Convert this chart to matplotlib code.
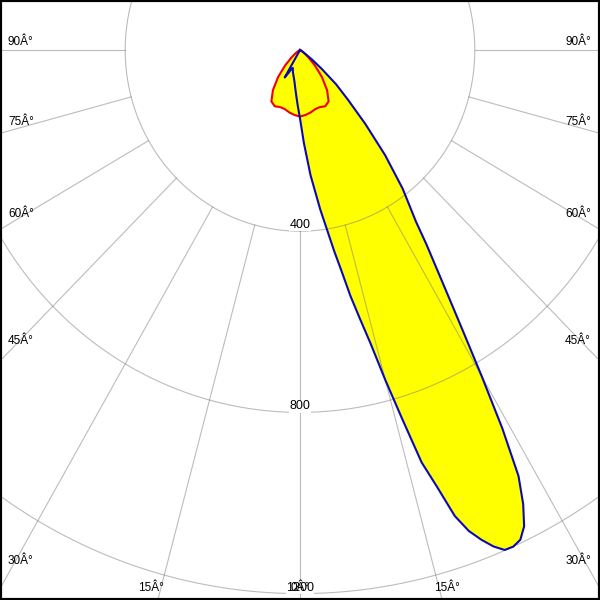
import numpy as np
import matplotlib
matplotlib.use('Agg')
import matplotlib.pyplot as plt
from matplotlib.patches import Rectangle

# C0 - C180 plane (blue), gamma in degrees, negative side is C180
gamma_c0 = [-90, -85, -80, -75, -70, -65, -60, -55, -50, -45, -40, -35,
            -30, -27.5, -25, -22.5, -20, -17.5, -15, -12.5, -10, -7.5, -5, -2.5,
            0, 2.5, 5, 7.5, 10, 11, 12, 13, 14, 15, 16, 17, 18, 19, 20,
            21, 22, 23, 24, 25, 26, 27, 28, 29, 30, 31, 32, 33, 34, 35,
            37.5, 40, 42.5, 45, 47.5, 50, 52.5, 55,
            60, 65, 70, 75, 80, 85, 90]
cd_c0 = [0, 0, 0, 0, 0, 0, 0, 0, 0, 0, 0, 0,
         70, 57, 46, 43, 48, 53, 58, 64, 72, 84, 100, 122,
         151, 206, 278, 355, 451, 496, 555, 608, 668, 754, 845, 952, 1013, 1088, 1130,
         1158, 1182, 1199, 1200, 1193, 1170, 1125, 1065, 955, 832, 725, 640, 572, 517, 463,
         386, 303, 221, 155, 112, 65, 35, 15,
         4, 0, 0, 0, 0, 0, 0]

# C90 - C270 plane (red), symmetric
gamma_c90 = [-90, -85, -80, -75, -70, -65, -60, -55, -50, -45, -40, -35, -30, -25, -20, -15, -10, -5,
             0, 5, 10, 15, 20, 25, 30, 35, 40, 45, 50, 55, 60, 65, 70, 75, 80, 85, 90]
cd_c90 = [0, 0, 0, 0, 0, 2, 5, 12, 25, 48, 78, 108, 131, 137, 134, 135, 140, 144,
          147, 144, 140, 135, 134, 137, 131, 108, 78, 48, 25, 12, 5, 2, 0, 0, 0, 0, 0]

ring_values = [400, 800, 1200]
ring_labels = ['400', '800', '1200']
spoke_angles = [-90, -75, -60, -45, -30, -15, 0, 15, 30, 45, 60, 75, 90]

# angle labels, placed at the picture border (pixels from top-left)
angle_labels = [('90Â°', 8, 42, 'left'), ('75Â°', 8, 122, 'left'), ('60Â°', 8, 214, 'left'),
                ('45Â°', 8, 341, 'left'), ('30Â°', 8, 561, 'left'),
                ('90Â°', 591, 42, 'right'), ('75Â°', 591, 122, 'right'), ('60Â°', 591, 214, 'right'),
                ('45Â°', 591, 341, 'right'), ('30Â°', 591, 561, 'right'),
                ('15Â°', 151, 588, 'center'), ('0Â°', 300, 588, 'center'),
                ('15Â°', 447, 588, 'center')]

plt.rcParams['font.family'] = ['Liberation Sans', 'DejaVu Sans']

W = H = 600
fig = plt.figure(figsize=(6, 6), dpi=100)
fig.patch.set_facecolor('white')

# the diagram is slightly stretched vertically
R = 1400
sx, sy = 0.437, 0.453
cx, cy = 300, 50
w, h = 2 * R * sx, 2 * R * sy
ax = fig.add_axes([(cx - w / 2) / W, (H - cy - h / 2) / H, w / W, h / H],
                  projection='polar')
ax.set_aspect('auto')
ax.set_theta_zero_location('S')
ax.set_ylim(0, R)
ax.axis('off')

t0 = np.radians(gamma_c0)
t90 = np.radians(gamma_c90)

ax.fill(t0, cd_c0, color='#ffff00', lw=0, zorder=1)
ax.fill(t90, cd_c90, color='#ffff00', lw=0, zorder=1)

grid = dict(color='#7a7a7a', alpha=0.5, lw=0.8, zorder=2)
full = np.linspace(0, 2 * np.pi, 721)
for r in ring_values:
    ax.plot(full, np.full_like(full, r), **grid)
for a in spoke_angles:
    ax.plot([np.radians(a)] * 2, [ring_values[0], R], **grid)

ax.plot(t90, cd_c90, color='#ee0000', lw=1.5, zorder=3)
ax.plot(t0, cd_c0, color='#0a0ab4', lw=1.5, zorder=4)

for r, s in zip(ring_values, ring_labels):
    ax.text(0, r, s, ha='center', va='bottom', fontsize=9, zorder=5,
            bbox=dict(facecolor='white', edgecolor='none', pad=0.2))

for s, x, y, ha in angle_labels:
    fig.text(x / W, 1 - y / H, s, ha=ha, va='center', fontsize=8.5, zorder=6)

fig.patches.append(Rectangle((0, 0), 1, 1, transform=fig.transFigure, fill=False,
                             edgecolor='black', lw=3))

fig.savefig('out.png', dpi=100, facecolor='white')
